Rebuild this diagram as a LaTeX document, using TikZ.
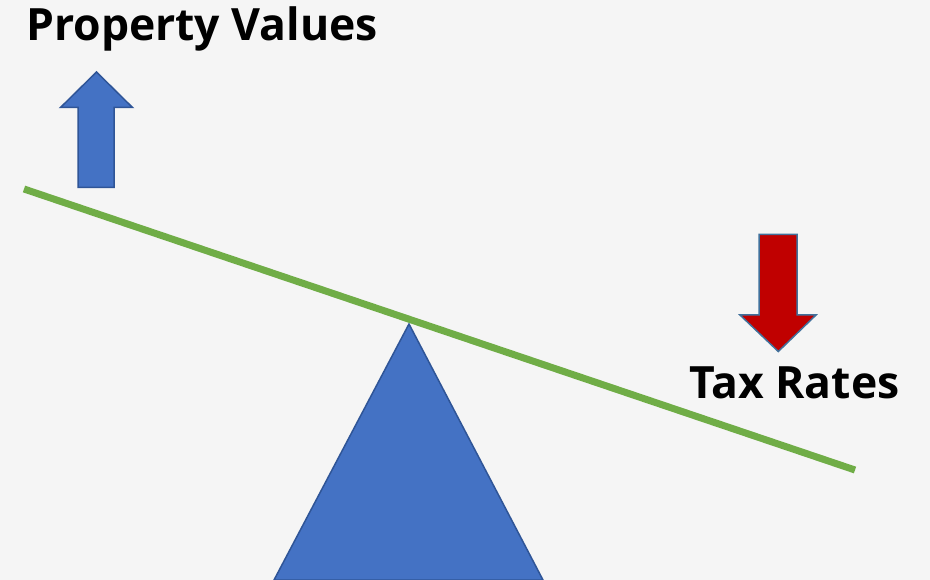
\documentclass[tikz,border=0pt]{standalone}
\usepackage{fontspec}
\setmainfont{Open Sans}
\definecolor{bg}{HTML}{F5F5F5}
\definecolor{accblue}{HTML}{4472C4}
\definecolor{edgeblue}{HTML}{2F5597}
\definecolor{accred}{HTML}{C00000}
\definecolor{redge}{HTML}{41719C}
\definecolor{beam}{HTML}{70AD47}
\begin{document}
\begin{tikzpicture}[x=1pt,y=-1pt,
  lbl/.style={inner sep=0pt,font=\fontsize{44.5}{50}\selectfont\bfseries,anchor=base west},
  shapeblue/.style={fill=accblue,draw=edgeblue,line width=1.5pt,line join=miter}]
\fill[bg] (0,0) rectangle (930,580);
\useasboundingbox (0,0) rectangle (930,580);
% fulcrum
\filldraw[shapeblue] (409,324) -- (543,580) -- (274,580) -- cycle;
% beam
\coordinate (bl) at (24,189);
\coordinate (br) at (855,470);
\draw[beam,line width=7pt] (bl) -- (br);
% up arrow
\filldraw[shapeblue] (96.5,72) -- (132.5,107.5) -- (114,107.5) -- (114,187.5) -- (78,187.5) -- (78,107.5) -- (60.5,107.5) -- cycle;
% down arrow
\filldraw[fill=accred,draw=redge,line width=1.5pt] (759,234.5) -- (797,234.5) -- (797,315) -- (816,315) -- (778.3,351.5) -- (740,315) -- (759,315) -- (759,234.5) -- cycle;
\node[lbl] (pv) at (26,41) {Property Values};
\node[lbl] (tr) at (689,399) {Tax Rates};
\end{tikzpicture}
\end{document}
